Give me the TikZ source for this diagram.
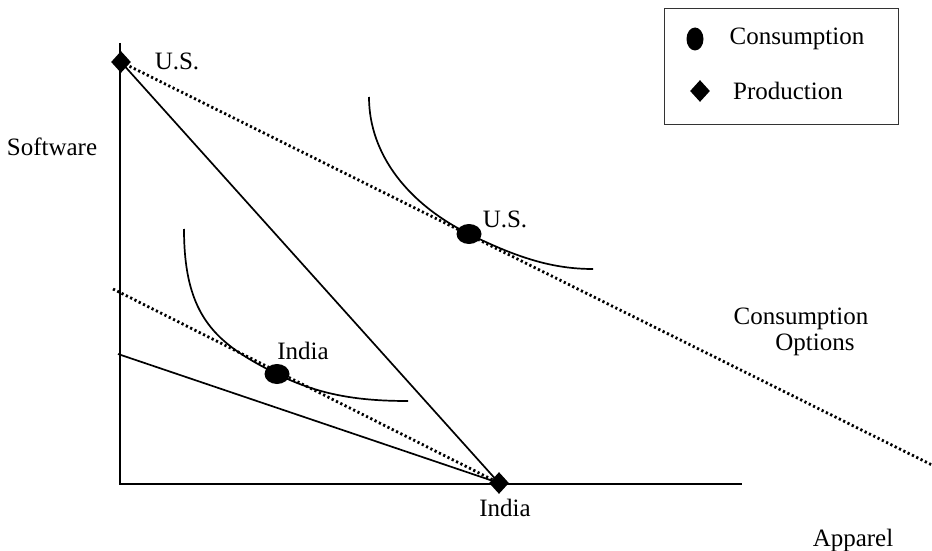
\documentclass[tikz,border=0pt]{standalone}
\usepackage{fontspec}
\setmainfont{Liberation Serif}
\usetikzlibrary{shapes.geometric,backgrounds}
\begin{document}
\begin{tikzpicture}[x=0.5pt,y=-0.5pt,
  every node/.style={font=\fontsize{12.5}{15}\selectfont},
  prod/.style={diamond,fill=black,inner sep=0pt,minimum width=10pt,minimum height=11pt},
  cons/.style={ellipse,fill=black,inner sep=0pt,minimum width=12.5pt,minimum height=10pt},
  solidline/.style={line width=0.85pt},
  dotline/.style={line width=1.4pt,dash pattern=on 1.1pt off 1.3pt},
  lbl/.style={inner sep=0pt,align=center}]
\useasboundingbox (0,0) rectangle (932,551);
% axes
\coordinate (O) at (120,484);
\coordinate (ytop) at (120,43);
\coordinate (xend) at (742,484);
% production points
\node[prod] (usP) at (121,62) {};
\node[prod] (inP) at (499,483) {};
% consumption points
\node[cons] (usC) at (469,234) {};
\node[cons] (inC) at (277,374) {};
% free ends
\coordinate (usEnd) at (932,465);
\coordinate (inDotStart) at (113,289);
\coordinate (inSolStart) at (118,354);
\begin{scope}[on background layer]
\draw[solidline] (ytop) -- (O) -- (xend);
\draw[solidline] (usP.center) -- (inP.center);
\draw[dotline] (usP.center) -- (usEnd);
\draw[dotline] (inDotStart) -- (inP.center);
\draw[solidline] (inSolStart) -- (inP.center);
% indifference curves
\draw[solidline] (369,97) .. controls (369,155) and (409,204.4) .. (usC.center)
  .. controls (520,259.2) and (555,269) .. (593,269);
\draw[solidline] (184,229) .. controls (184,318) and (217,344) .. (inC.center)
  .. controls (320,395.5) and (360,401) .. (408,401);
\end{scope}
% labels
\node[lbl] (lUS1) at (177,61) {U.S.};
\node[lbl] (lUS2) at (505,219) {U.S.};
\node[lbl] (lIn1) at (303,351) {India};
\node[lbl] (lIn2) at (505,508) {India};
\node[lbl] (lSoft) at (52,147) {Software};
\node[lbl] (lApp) at (853,540) {Apparel};
\node[lbl] (lCO) at (801,332) {Consumption\\[-2pt]\hspace*{14pt}Options};
% legend
\node[draw=black!80,line width=0.5pt,minimum width=117pt,minimum height=58pt,inner sep=0pt] (legend) at (781,67) {};
\node[ellipse,fill=black,inner sep=0pt,minimum width=8.5pt,minimum height=11.5pt] (legC) at (695,39) {};
\node[lbl] (legCt) at (797,39) {Consumption};
\node[prod] (legP) at (700,91) {};
\node[lbl] (legPt) at (788,91) {Production};
\end{tikzpicture}
\end{document}
